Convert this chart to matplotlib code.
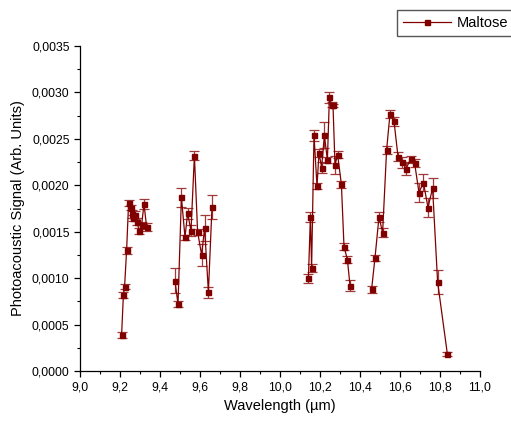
import numpy as np
import matplotlib
matplotlib.use("Agg")
import matplotlib.pyplot as plt
from matplotlib.lines import Line2D
from matplotlib.ticker import MultipleLocator, FuncFormatter

plt.rcParams['font.family'] = ['Liberation Sans', 'DejaVu Sans']

wl_1 = [9.208, 9.217, 9.223, 9.233, 9.243, 9.253, 9.262, 9.267, 9.275, 9.283, 9.297, 9.308, 9.320, 9.333]
sig_1 = [0.00039, 0.00082, 0.00091, 0.00130, 0.00181, 0.00176, 0.00169, 0.00165, 0.00168, 0.00161, 0.00151, 0.00157, 0.00180, 0.00155]
err_1 = [0.00003, 0.00003, 0.00003, 0.00004, 0.00003, 0.00003, 0.00004, 0.00003, 0.00004, 0.00004, 0.00003, 0.00004, 0.00005, 0.00004]

wl_2 = [9.475, 9.490, 9.507, 9.525, 9.538, 9.555, 9.572, 9.588, 9.608, 9.623, 9.642, 9.660]
sig_2 = [0.00097, 0.00072, 0.00187, 0.00144, 0.00170, 0.00151, 0.00232, 0.00150, 0.00125, 0.00154, 0.00085, 0.00177]
err_2 = [0.000135, 0.00003, 0.00010, 0.00003, 0.00006, 0.00006, 0.00005, 0.00003, 0.00012, 0.00014, 0.00006, 0.00013]

wl_3 = [10.142, 10.152, 10.158, 10.170, 10.185, 10.195, 10.208, 10.222, 10.237, 10.247,
        10.258, 10.265, 10.275, 10.288, 10.307, 10.320, 10.337, 10.350]
sig_3 = [0.00100, 0.00166, 0.00111, 0.00254, 0.00199, 0.00235, 0.00219, 0.00254, 0.00227, 0.00295,
         0.00287, 0.00286, 0.00222, 0.00233, 0.00201, 0.00134, 0.00120, 0.00092]
err_3 = [0.00005, 0.00005, 0.00004, 0.00006, 0.00003, 0.00004, 0.00006, 0.00014, 0.00003, 0.00006,
         0.00003, 0.00002, 0.00010, 0.00004, 0.00004, 0.00004, 0.00004, 0.00006]

wl_4 = [10.458, 10.475, 10.495, 10.513, 10.533, 10.550, 10.570, 10.590, 10.610, 10.630,
        10.653, 10.673, 10.695, 10.717, 10.740, 10.763, 10.788, 10.837]
sig_4 = [0.00088, 0.00122, 0.00166, 0.00149, 0.00238, 0.00277, 0.00269, 0.00231, 0.00225, 0.00218,
         0.00228, 0.00224, 0.00192, 0.00203, 0.00176, 0.00197, 0.00096, 0.00018]
err_4 = [0.00004, 0.00003, 0.00005, 0.00005, 0.00004, 0.00004, 0.00005, 0.00005, 0.00006, 0.00007,
         0.00004, 0.00004, 0.00010, 0.00009, 0.00010, 0.00011, 0.00013, 0.00002]

segments = [(wl_1, sig_1, err_1), (wl_2, sig_2, err_2), (wl_3, sig_3, err_3), (wl_4, sig_4, err_4)]

color = '#800000'

fig = plt.figure(figsize=(5.11, 4.22), dpi=100)
ax = fig.add_axes([80 / 511, 51 / 422, 400 / 511, 325 / 422])

for x, y, e in segments:
    ax.errorbar(x, y, yerr=e, color=color, ecolor='#a03a3a', elinewidth=0.9,
                capsize=3.5, capthick=0.9, lw=0.9, marker='s', markersize=3.6,
                markerfacecolor=color, markeredgecolor=color)

ax.set_xlim(9.0, 11.0)
ax.set_ylim(0, 0.0035)
ax.xaxis.set_major_locator(MultipleLocator(0.2))
ax.xaxis.set_minor_locator(MultipleLocator(0.1))
ax.yaxis.set_major_locator(MultipleLocator(0.0005))
ax.yaxis.set_minor_locator(MultipleLocator(0.00025))
ax.xaxis.set_major_formatter(FuncFormatter(lambda v, p: f'{v:.1f}'.replace('.', ',')))
ax.yaxis.set_major_formatter(FuncFormatter(lambda v, p: f'{v:.4f}'.replace('.', ',')))

for s in ['top', 'right']:
    ax.spines[s].set_visible(False)
for s in ['left', 'bottom']:
    ax.spines[s].set_linewidth(0.9)
ax.tick_params(which='major', direction='out', length=4, width=0.9, labelsize=8.8)
ax.tick_params(which='minor', direction='out', length=2.5, width=0.8)

ax.set_xlabel('Wavelength (\u00b5m)', fontsize=10.5, labelpad=4)
ax.set_ylabel('Photoacoustic Signal (Arb. Units)', fontsize=10.5, labelpad=5)

handle = Line2D([], [], color=color, lw=0.9, marker='s', markersize=3.6)
fig.legend([handle], ['Maltose'], loc='upper left', bbox_to_anchor=(397 / 511, 1 - 10 / 422),
           fontsize=10.5, frameon=True, fancybox=False, edgecolor='#555555', framealpha=1,
           borderpad=0.42, handlelength=3.3, handletextpad=0.4, borderaxespad=0)

fig.savefig('out.png', dpi=100)
